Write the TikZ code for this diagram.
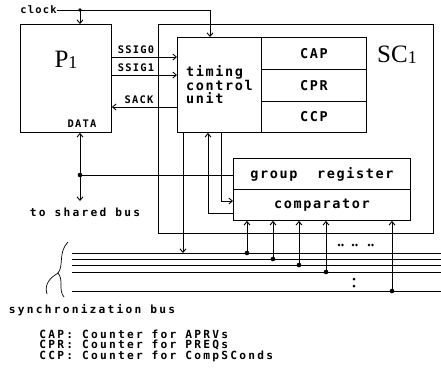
\documentclass[tikz,border=0pt]{standalone}
\usepackage{fontspec}
\setmainfont{Liberation Serif}
\newfontfamily\dotfont[LetterSpace=12]{DejaVu Sans Mono}
\newfontfamily\widefont[LetterSpace=20]{DejaVu Sans Mono}
\usetikzlibrary{positioning,arrows.meta,calc}
\newcommand{\unitname}[1]{{\fontsize{25}{25}\selectfont #1\raisebox{-1pt}{\fontsize{18}{18}\selectfont 1}}}

\begin{document}
\begin{tikzpicture}[x=1pt, y=-1pt, line width=0.9pt,
  box/.style={draw, rectangle, anchor=north west, inner sep=0pt},
  small/.style={font=\dotfont\bfseries\fontsize{10.4}{12}\selectfont, inner sep=0pt},
  big/.style={font=\dotfont\bfseries\fontsize{13.5}{13}\selectfont, inner sep=0pt},
  mid/.style={font=\widefont\bfseries\fontsize{11.2}{11}\selectfont, inner sep=0pt},
  dot/.style={circle, fill, inner sep=0pt, minimum size=4.6pt},
  arr/.style={-{Straight Barb[length=3.5pt,width=6pt]}}]
\useasboundingbox (0,0) rectangle (441,370);
% boxes
\node[box, minimum width=275pt, minimum height=209pt] (sc) at (158,24) {};
\node[box, minimum width=91pt, minimum height=108pt] (p1) at (20,24) {};
\node at (66,60) {\unitname{P}};
\node at (397,55) {\unitname{SC}};
\node[box, big, align=left, minimum width=84pt, minimum height=95pt] (tcu) at (177,37) {timing\\control\\unit};
\node[box, big, minimum width=105pt, minimum height=32pt] (cap) at (261,37) {CAP};
\node[box, big, minimum width=105pt, minimum height=32pt] (cpr) at (261,69) {CPR};
\node[box, big, minimum width=105pt, minimum height=31pt] (ccp) at (261,101) {CCP};
\node[box, big, minimum width=177pt, minimum height=31pt] (grp) at (233,158) {group~~register};
\node[box, big, minimum width=177pt, minimum height=31pt] (cmp) at (233,189) {comparator};
% clock
\node[small, anchor=east] (clk) at (57,10) {clock};
\coordinate (clkdot) at (80,10);
\coordinate (clkc) at (210,10);
\draw[arr] (clk.east) -- (clkc) -- (clkc |- tcu.north);
\draw[arr] (clkdot) -- (clkdot |- p1.north);
\node[dot, minimum size=3.6pt] at (clkdot) {};
% signals between P1 and the timing control unit
\coordinate (s0) at (0,57);
\coordinate (s1) at (0,75);
\coordinate (sa) at (0,107);
\draw[arr] (p1.east |- s0) -- (tcu.west |- s0);
\draw[arr] (p1.east |- s1) -- (tcu.west |- s1);
\draw[arr] (tcu.west |- sa) -- (p1.east |- sa);
\node[small] (ssig0) at (136,50) {SSIG0};
\node[small] (ssig1) at (136,68) {SSIG1};
\node[small] (sack) at (139,100) {SACK};
% data
\node[small] (data) at (82,124) {DATA};
\coordinate (dtap) at (80,175);
\node[mid] (shared) at (85,212) {to~shared~bus};
\draw[arr] (dtap) -- (dtap |- p1.south);
\draw[arr] (dtap) -- (80,201);
\draw (dtap) -- (grp.west |- dtap);
\node[dot] at (dtap) {};
% lines below the timing control unit
\coordinate (t1) at (183,0);
\coordinate (t2) at (208,213);
\coordinate (t3) at (221,201);
\draw[arr] (t2) -- (t2 |- tcu.south);
\draw (t2) -- (cmp.west |- t2);
\draw (t3 |- tcu.south) -- (t3);
\draw[arr] (t3) -- (cmp.west |- t3);
% synchronization bus
\foreach \y [count=\i from 0] in {253,259,265,272,291}
  \draw (72,\y) coordinate (b\i) -- (441,\y);
\draw[arr] (t1 |- tcu.south) -- (t1 |- b0);
\foreach \x [count=\i from 0] in {247,273,299,326,392} {
  \coordinate (tap\i) at (\x,0);
  \draw[arr] (tap\i |- b\i) -- (tap\i |- cmp.south);
  \node[dot] at (tap\i |- b\i) {};
}
\foreach \x in {339,342.5,353,356.5,369,372.5}
  \fill (\x,245) circle (1.4pt);
\fill (354,279) circle (1.5pt) (354,286) circle (1.5pt);
\draw[line width=0.7pt] (68,242) .. controls (58,252) and (64,266) .. (58,273)
  .. controls (64,280) and (58,290) .. (64,297);
\draw[line width=0.7pt] (58,273) .. controls (50,278) and (44,284) .. (47,294);
\node[mid] (syncbus) at (92,310) {synchronization~bus};
% legend
\node[mid, anchor=west] (lcap) at (39,334) {CAP:~Counter~for~APRVs};
\node[mid, anchor=west] (lcpr) at (39,345) {CPR:~Counter~for~PREQs};
\node[mid, anchor=west] (lccp) at (39,356) {CCP:~Counter~for~CompSConds};
\end{tikzpicture}
\end{document}
